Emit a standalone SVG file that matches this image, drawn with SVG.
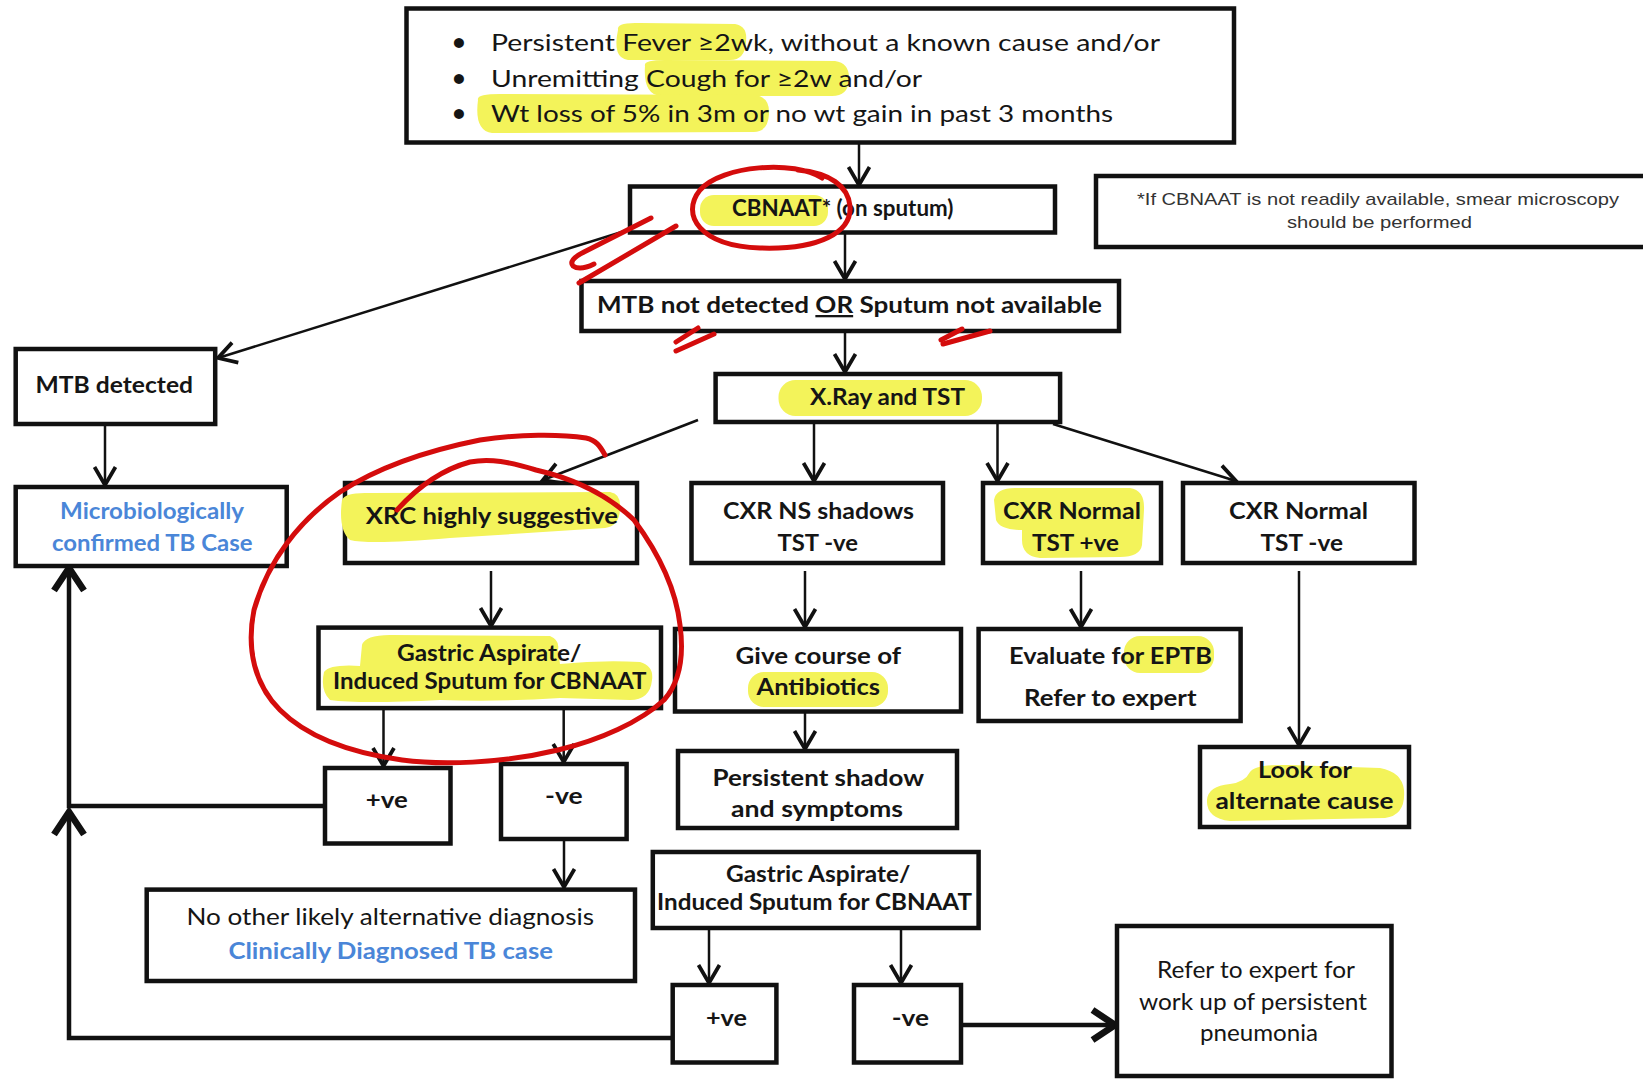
<svg xmlns="http://www.w3.org/2000/svg" width="1643" height="1079" viewBox="0 0 1643 1079">
<style>
.box{fill:#fff;stroke:#111;stroke-width:4.5}
.t{font-family:Lato,"Liberation Sans",sans-serif;font-weight:700;font-size:23px;fill:#151515}
.reg{font-weight:400}
.blue{fill:#4a86d8}
.note{font-family:"Liberation Sans",Arial,sans-serif;font-size:17px;fill:#333;font-weight:400}
.hl{fill:#f3f35a}
.red{fill:none;stroke:#d40c0c;stroke-width:5;stroke-linecap:round;stroke-linejoin:round}
.conn{stroke:#111;stroke-width:2.5;fill:none}
.thick{stroke:#111;stroke-width:4.5;fill:none}
</style>
<defs>
<marker id="ah" markerUnits="userSpaceOnUse" markerWidth="30" markerHeight="30" viewBox="-15 -10 17 20" refX="0" refY="0" orient="auto">
<path d="M-12,-7 L0,0 L-12,7" fill="none" stroke="#111" stroke-width="2.5" stroke-linejoin="miter"/>
</marker>
<marker id="ahb" markerUnits="userSpaceOnUse" markerWidth="36" markerHeight="36" viewBox="-18 -12 21 24" refX="0" refY="0" orient="auto">
<path d="M-15,-10 L0,0 L-15,10" fill="none" stroke="#111" stroke-width="4.5"/>
</marker>
</defs>
<rect width="1643" height="1079" fill="#fff"/>

<g id="connectors">
<line class="conn" x1="859" y1="143" x2="859" y2="185" marker-end="url(#ah)"/>
<line class="conn" x1="845" y1="233" x2="845" y2="279" marker-end="url(#ah)"/>
<line class="conn" x1="628" y1="230" x2="218" y2="358" marker-end="url(#ah)"/>
<line class="conn" x1="845" y1="332" x2="845" y2="372" marker-end="url(#ah)"/>
<line class="conn" x1="698" y1="420" x2="543" y2="480" marker-end="url(#ah)"/>
<line class="conn" x1="814" y1="423" x2="814" y2="481" marker-end="url(#ah)"/>
<line class="conn" x1="997.5" y1="423" x2="997.5" y2="481" marker-end="url(#ah)"/>
<line class="conn" x1="1053" y1="424" x2="1236" y2="481" marker-end="url(#ah)"/>
<line class="conn" x1="105" y1="425" x2="105" y2="485" marker-end="url(#ah)"/>
<line class="conn" x1="491" y1="571" x2="491" y2="626" marker-end="url(#ah)"/>
<line class="conn" x1="805" y1="571" x2="805" y2="627" marker-end="url(#ah)"/>
<line class="conn" x1="1081" y1="571" x2="1081" y2="627" marker-end="url(#ah)"/>
<line class="conn" x1="1299" y1="571" x2="1299" y2="745" marker-end="url(#ah)"/>
<line class="conn" x1="383.5" y1="709" x2="383.5" y2="766" marker-end="url(#ah)"/>
<line class="conn" x1="563.7" y1="709" x2="563.7" y2="762" marker-end="url(#ah)"/>
<line class="conn" x1="805" y1="712" x2="805" y2="749" marker-end="url(#ah)"/>
<line class="conn" x1="564" y1="840" x2="564" y2="887" marker-end="url(#ah)"/>
<line class="conn" x1="709" y1="929" x2="709" y2="983" marker-end="url(#ah)"/>
<line class="conn" x1="901" y1="929" x2="901" y2="983" marker-end="url(#ah)"/>
<line class="thick" x1="962" y1="1025" x2="1115" y2="1025" marker-end="url(#ahb)"/>
<polyline class="thick" points="325,806 69,806 69,568" marker-end="url(#ahb)"/>
<polyline class="thick" points="672,1038 69,1038 69,812" marker-end="url(#ahb)"/>
</g>

<g id="n-top">
<rect class="box" x="406.5" y="8.5" width="827.5" height="134" stroke-width="5"/>
<path class="hl" d="M618,30 Q616,22 640,23 L735,24 Q748,26 746,42 Q745,60 730,60 L628,60 Q612,58 618,30Z"/>
<path class="hl" d="M645,66 Q643,60 665,60 L835,61 Q850,63 849,80 Q848,96 832,96 L660,96 Q643,94 645,66Z"/>
<path class="hl" d="M478,100 Q476,94 500,94 L755,95 Q770,97 769,114 Q768,133 752,132 L492,133 Q474,131 478,100Z"/>
<text class="t" x="459" y="50" text-anchor="middle" font-size="15">•</text>
<text class="t" x="459" y="85.5" text-anchor="middle" font-size="15">•</text>
<text class="t" x="459" y="121" text-anchor="middle" font-size="15">•</text>
<text class="t reg" x="491" y="51" font-size="26.5" textLength="669" lengthAdjust="spacingAndGlyphs">Persistent Fever ≥2wk, without a known cause and/or</text>
<text class="t reg" x="491" y="86.5" font-size="26.5" textLength="431" lengthAdjust="spacingAndGlyphs">Unremitting Cough for ≥2w and/or</text>
<text class="t reg" x="491" y="122" font-size="26.5" textLength="622" lengthAdjust="spacingAndGlyphs">Wt loss of 5% in 3m or no wt gain in past 3 months</text>
</g>

<g id="n-cbnaat">
<rect class="box" x="630" y="186.5" width="425" height="46" stroke-width="5"/>
<rect class="hl" x="700" y="195" width="128" height="31" rx="14"/>
<text class="t" x="732" y="216" font-size="20" textLength="221.5" lengthAdjust="spacingAndGlyphs">CBNAAT* (on sputum)</text>
</g>

<g id="n-note">
<rect class="box" x="1096" y="176" width="560" height="71" stroke-width="5"/>
<text class="note" x="1137" y="205" textLength="482" lengthAdjust="spacingAndGlyphs">*If CBNAAT is not readily available, smear microscopy</text>
<text class="note" x="1287" y="228" textLength="185" lengthAdjust="spacingAndGlyphs">should be performed</text>
</g>

<g id="n-mtbnot">
<rect class="box" x="581.5" y="281" width="537.5" height="50" stroke-width="2"/>
<text class="t" x="597" y="313" font-size="23.5" textLength="505" lengthAdjust="spacingAndGlyphs">MTB not detected <tspan text-decoration="underline">OR</tspan> Sputum not available</text>
</g>

<g id="n-mtbdet">
<rect class="box" x="15.7" y="349" width="199.5" height="75"/>
<text class="t" x="35.6" y="393" textLength="157.4" lengthAdjust="spacingAndGlyphs">MTB detected</text>
</g>

<g id="n-xray">
<rect class="box" x="715.6" y="374" width="344.5" height="48" stroke-width="5"/>
<rect class="hl" x="778.5" y="380" width="203.5" height="36" rx="17"/>
<text class="t" x="810" y="405" textLength="155" lengthAdjust="spacingAndGlyphs">X.Ray and TST</text>
</g>

<g id="n-micro">
<rect class="box" x="15.7" y="487" width="271" height="79"/>
<text class="t blue" x="60" y="519" textLength="184" lengthAdjust="spacingAndGlyphs">Microbiologically</text>
<text class="t blue" x="52" y="551" textLength="200.5" lengthAdjust="spacingAndGlyphs">confirmed TB Case</text>
</g>

<g id="n-xrc">
<rect class="box" x="345" y="483" width="292" height="80"/>
<path class="hl" d="M342,500 Q345,492 370,493 L610,492 Q622,494 620,510 Q619,526 605,528 L450,538 Q370,545 350,540 Q338,530 342,500Z"/>
<text class="t" x="365.7" y="524" textLength="252.3" lengthAdjust="spacingAndGlyphs">XRC highly suggestive</text>
</g>

<g id="n-cxrns">
<rect class="box" x="691.5" y="483" width="251.5" height="80"/>
<text class="t" x="723" y="519" textLength="191" lengthAdjust="spacingAndGlyphs">CXR NS shadows</text>
<text class="t" x="777.5" y="551" textLength="80.5" lengthAdjust="spacingAndGlyphs">TST -ve</text>
</g>

<g id="n-cxrpos">
<rect class="box" x="983" y="483" width="178" height="80"/>
<path class="hl" d="M994,500 Q996,488 1015,488 L1130,488 Q1145,490 1144,510 L1142,545 Q1140,557 1120,557 L1040,558 Q1022,556 1022,540 L1022,530 Q1000,530 996,520 Z"/>
<text class="t" x="1003" y="519" textLength="138" lengthAdjust="spacingAndGlyphs">CXR Normal</text>
<text class="t" x="1032" y="551" textLength="87" lengthAdjust="spacingAndGlyphs">TST +ve</text>
</g>

<g id="n-cxrneg">
<rect class="box" x="1183" y="483" width="231.5" height="80"/>
<text class="t" x="1229" y="519" textLength="139" lengthAdjust="spacingAndGlyphs">CXR Normal</text>
<text class="t" x="1260.5" y="551" textLength="82.5" lengthAdjust="spacingAndGlyphs">TST -ve</text>
</g>

<g id="n-gastric1">
<rect class="box" x="318.5" y="627.6" width="342.5" height="80.5"/>
<path class="hl" d="M362,645 Q365,635 390,635 L550,636 Q560,640 558,650 L560,664 Q600,660 640,662 Q654,666 652,680 Q650,700 630,700 L560,698 Q500,702 440,700 Q360,704 330,700 Q320,690 324,672 Q330,664 360,666 Z"/>
<text class="t" x="397" y="661" textLength="184.5" lengthAdjust="spacingAndGlyphs">Gastric Aspirate/</text>
<text class="t" x="333" y="689" textLength="313.5" lengthAdjust="spacingAndGlyphs">Induced Sputum for CBNAAT</text>
</g>

<g id="n-give">
<rect class="box" x="675" y="629" width="286" height="82.5"/>
<rect class="hl" x="748" y="672" width="140" height="35" rx="16"/>
<text class="t" x="735.6" y="664" textLength="165.4" lengthAdjust="spacingAndGlyphs">Give course of</text>
<text class="t" x="756.5" y="695" textLength="123.5" lengthAdjust="spacingAndGlyphs">Antibiotics</text>
</g>

<g id="n-eval">
<rect class="box" x="978.6" y="629" width="262" height="92"/>
<rect class="hl" x="1124" y="636" width="90" height="37" rx="16"/>
<text class="t" x="1009" y="664" textLength="203" lengthAdjust="spacingAndGlyphs">Evaluate for EPTB</text>
<text class="t" x="1024" y="706" textLength="172.6" lengthAdjust="spacingAndGlyphs">Refer to expert</text>
</g>

<g id="n-look">
<rect class="box" x="1200" y="747" width="209" height="80"/>
<path class="hl" d="M1250,772 Q1255,764 1290,765 L1380,768 Q1402,772 1404,790 Q1406,815 1385,818 L1230,821 Q1206,818 1207,800 Q1208,786 1230,784 Q1245,782 1250,772Z"/>
<text class="t" x="1258" y="778" textLength="94" lengthAdjust="spacingAndGlyphs">Look for</text>
<text class="t" x="1215.5" y="809" textLength="178" lengthAdjust="spacingAndGlyphs">alternate cause</text>
</g>

<g id="n-pos1">
<rect class="box" x="325" y="768" width="125.5" height="75.5"/>
<text class="t" x="365.7" y="808" textLength="42" lengthAdjust="spacingAndGlyphs">+ve</text>
</g>

<g id="n-neg1">
<rect class="box" x="501" y="764" width="125.6" height="75"/>
<text class="t" x="545" y="804" textLength="37.6" lengthAdjust="spacingAndGlyphs">-ve</text>
</g>

<g id="n-persist">
<rect class="box" x="678" y="751" width="279" height="77"/>
<text class="t" x="712.5" y="786" textLength="211.5" lengthAdjust="spacingAndGlyphs">Persistent shadow</text>
<text class="t" x="731" y="817" textLength="172" lengthAdjust="spacingAndGlyphs">and symptoms</text>
</g>

<g id="n-noother">
<rect class="box" x="146.7" y="889.6" width="488.3" height="91.4" stroke-width="3.5"/>
<text class="t reg" x="186.5" y="925" textLength="407.5" lengthAdjust="spacingAndGlyphs">No other likely alternative diagnosis</text>
<text class="t blue" x="228.4" y="959" textLength="324.6" lengthAdjust="spacingAndGlyphs">Clinically Diagnosed TB case</text>
</g>

<g id="n-gastric2">
<rect class="box" x="652.8" y="852" width="325.8" height="76"/>
<text class="t" x="726" y="882" textLength="184.5" lengthAdjust="spacingAndGlyphs">Gastric Aspirate/</text>
<text class="t" x="657" y="910" textLength="315" lengthAdjust="spacingAndGlyphs">Induced Sputum for CBNAAT</text>
</g>

<g id="n-pos2">
<rect class="box" x="672.7" y="985" width="103.7" height="77.5"/>
<text class="t" x="706" y="1026" textLength="41" lengthAdjust="spacingAndGlyphs">+ve</text>
</g>

<g id="n-neg2">
<rect class="box" x="854" y="985" width="107" height="77.5"/>
<text class="t" x="891.7" y="1026" textLength="37.3" lengthAdjust="spacingAndGlyphs">-ve</text>
</g>

<g id="n-refer">
<rect class="box" x="1117" y="926" width="274.5" height="150"/>
<text class="t reg" x="1157" y="978" fill="#333" textLength="198" lengthAdjust="spacingAndGlyphs">Refer to expert for</text>
<text class="t reg" x="1139" y="1010" fill="#333" textLength="228" lengthAdjust="spacingAndGlyphs">work up of persistent</text>
<text class="t reg" x="1200" y="1041" fill="#333" textLength="118" lengthAdjust="spacingAndGlyphs">pneumonia</text>
</g>

<g id="annotations">
<path class="red" d="M822,178 C795,160 722,165 700,190 C680,215 700,246 760,248 C820,250 852,232 850,206 C848,186 830,173 798,170"/>
<path class="red" d="M651,218 L584,252 Q568,260 573,266 Q580,271 594,264"/>
<path class="red" d="M676,226 L579,283"/>
<path class="red" d="M698,328 L676,342"/>
<path class="red" d="M714,334 L676,351"/>
<path class="red" d="M962,329 L941,340"/>
<path class="red" d="M990,331 L943,344"/>
<path class="red" d="M605,455 C600,446 596,440 586,438 C560,434 520,434 480,440 C430,450 380,466 340,492 C300,520 268,560 254,610 C246,650 255,685 280,710 C305,735 345,752 402,760 C440,765 500,764 558,750 C600,740 640,722 664,700 C680,682 684,655 680,625 C676,590 660,555 634,520 C610,497 580,480 536,470 C510,462 490,458 470,462 C440,470 415,490 397,510"/>
</g>
</svg>
